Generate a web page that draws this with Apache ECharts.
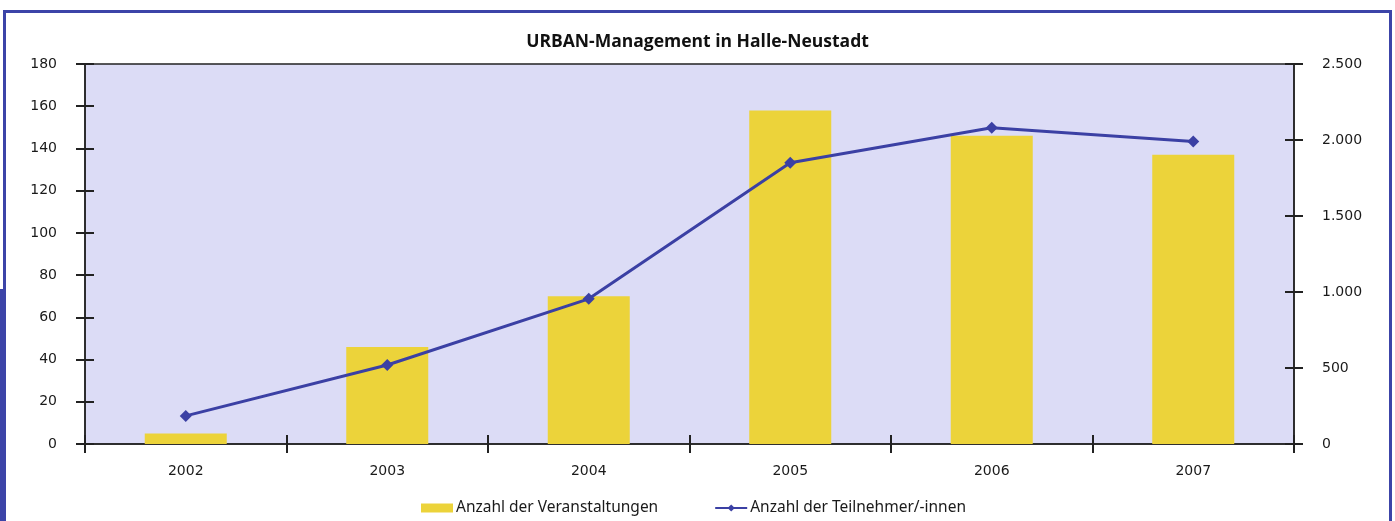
<!DOCTYPE html>
<html>
<head>
<meta charset="utf-8">
<script src="https://cdn.jsdelivr.net/npm/echarts@6/dist/echarts.min.js"></script>
<style>
  html, body { margin: 0; padding: 0; background: #fff; }
  #chart { width: 1395px; height: 521px; }
</style>
</head>
<body>
<div id="chart"></div>
<script>
// data
const years = ["2002", "2003", "2004", "2005", "2006", "2007"];
const veranstaltungen = [5, 46, 70, 158, 146, 137];
const teilnehmer = [185, 520, 955, 1850, 2080, 1990];

const leftTicks = { min: 0, max: 180, interval: 20 };
const rightTicks = { min: 0, max: 2500, interval: 500 };

const frameBlue = "#3c44a8";
const lineBlue = "#3b40a4";
const barYellow = "#ecd33a";
const axisDark = "#222";

function fmtThousands(v) {
    return String(v).replace(/\B(?=(\d{3})+(?!\d))/g, ".");
}

const chart = echarts.init(document.getElementById("chart"));

const labelFont = { fontFamily: "DejaVu Sans", fontSize: 14, color: "#1a1a1a" };

// two copies of each y axis: one carries labels + outside ticks, the other only inside ticks
function yAxisPair(range, pos, fmt) {
    return [
        {
            type: "value", position: pos, min: range.min, max: range.max, interval: range.interval,
            axisLine: { show: true, lineStyle: { color: axisDark, width: 1.5 } },
            axisTick: { show: true, length: 9, lineStyle: { color: axisDark, width: 2 } },
            axisLabel: Object.assign({ margin: 28, formatter: fmt }, labelFont),
            splitLine: { show: false }
        },
        {
            type: "value", position: pos, min: range.min, max: range.max, interval: range.interval,
            axisLine: { show: false },
            axisTick: { show: true, inside: true, length: 9, lineStyle: { color: axisDark, width: 2 } },
            axisLabel: { show: false },
            splitLine: { show: false }
        }
    ];
}

const option = {
    animation: false,
    backgroundColor: "#fff",
    title: {
        text: "URBAN-Management in Halle-Neustadt",
        left: "center",
        top: 28,
        textStyle: { fontFamily: "Open Sans", fontWeight: "bold", fontSize: 17.5, color: "#111" }
    },
    grid: {
        left: 85, right: 101, top: 64, bottom: 77,
        show: true,
        backgroundColor: "#dcdcf6",
        borderColor: axisDark,
        borderWidth: 1.5
    },
    legend: {
        bottom: 0,
        left: 416,
        itemGap: 56,
        itemWidth: 32,
        itemHeight: 9,
        textStyle: { fontFamily: "Noto Sans", fontSize: 15.5, color: "#1a1a1a", padding: [0, 0, 0, -2] },
        data: [
            { name: "Anzahl der Veranstaltungen", icon: "rect" },
            { name: "Anzahl der Teilnehmer/-innen" }
        ]
    },
    xAxis: [
        {
            type: "category", data: years,
            axisLine: { show: true, lineStyle: { color: axisDark, width: 1.5 } },
            axisTick: { show: true, length: 9, lineStyle: { color: axisDark, width: 2 } },
            axisLabel: Object.assign({ margin: 20 }, labelFont)
        },
        {
            type: "category", data: years, position: "bottom",
            axisLine: { show: false },
            axisTick: { show: true, inside: true, length: 9, lineStyle: { color: axisDark, width: 2 } },
            axisLabel: { show: false }
        }
    ],
    yAxis: [
        ...yAxisPair(leftTicks, "left", null),
        ...yAxisPair(rightTicks, "right", fmtThousands)
    ],
    series: [
        {
            name: "Anzahl der Veranstaltungen",
            type: "bar",
            yAxisIndex: 0,
            data: veranstaltungen,
            barWidth: 82,
            itemStyle: { color: barYellow }
        },
        {
            name: "Anzahl der Teilnehmer/-innen",
            type: "line",
            yAxisIndex: 2,
            data: teilnehmer,
            symbol: "diamond",
            symbolSize: 12,
            lineStyle: { color: lineBlue, width: 3 },
            itemStyle: { color: lineBlue }
        }
    ],
    graphic: [
        {
            type: "rect", silent: true,
            shape: { x: 4.5, y: 11.5, width: 1386, height: 540 },
            style: { fill: null, stroke: frameBlue, lineWidth: 3 }
        },
        {
            type: "rect", silent: true,
            shape: { x: 0, y: 289, width: 6, height: 240 },
            style: { fill: frameBlue }
        }
    ]
};

chart.setOption(option);
</script>
</body>
</html>
